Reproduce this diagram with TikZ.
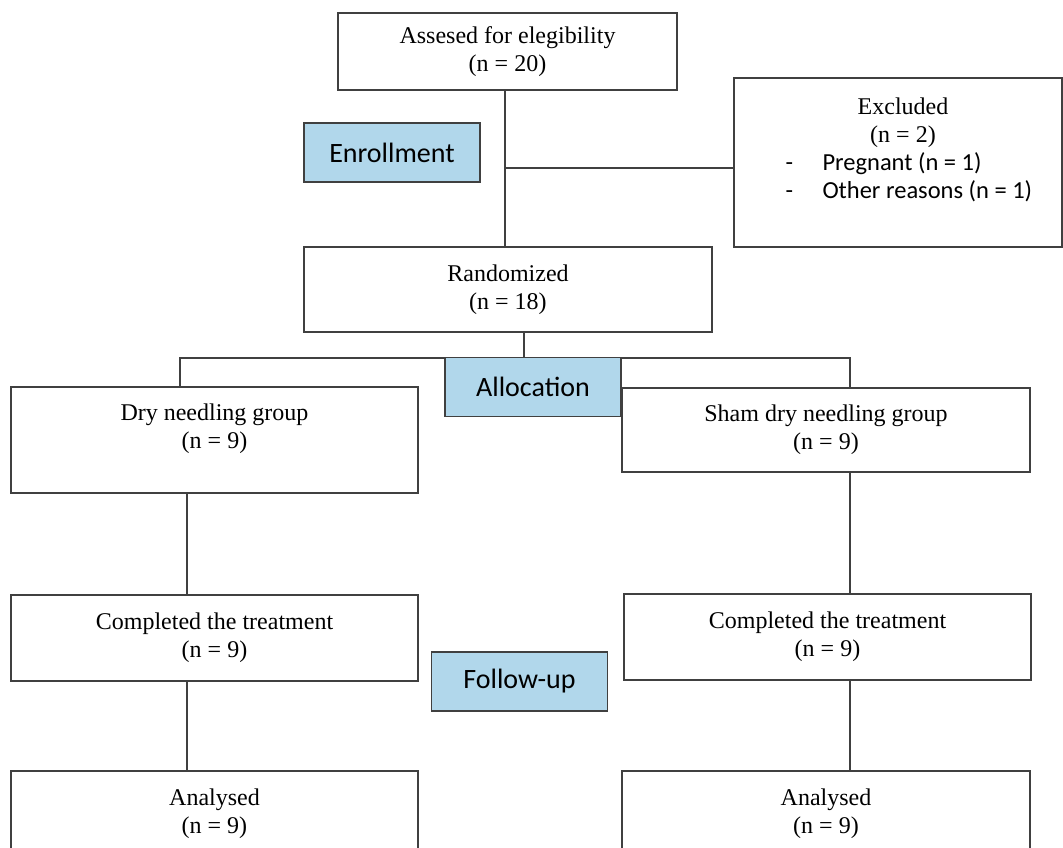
\documentclass[tikz,border=0pt]{standalone}
\usepackage{fontspec}
\setmainfont{Liberation Serif}
\newfontfamily\calib{Carlito}
\usepackage{tikz}
\definecolor{tagblue}{RGB}{177,215,235}
\definecolor{edge}{RGB}{64,64,64}
\newcommand{\excl}[1]{{\calib\fontsize{24.5}{29}\selectfont\makebox[265pt][r]{\makebox[245pt][l]{\makebox[37pt][l]{-}#1}}}}

\begin{document}
\begin{tikzpicture}[x=1pt,y=-1pt,
		box/.style={draw=edge,line width=1.1pt,align=center,inner sep=0pt,font=\fontsize{24}{28}\selectfont},
		tag/.style={draw=edge,line width=1.1pt,fill=tagblue,inner sep=0pt,minimum width=176pt,minimum height=59pt,font=\calib\fontsize{28}{32}\selectfont},
		link/.style={draw=edge,line width=1.1pt}]
					\useasboundingbox (0,0) rectangle (1063,848);
					\node[box,minimum width=339pt,minimum height=77pt] (assess) at (507.5,51.5) {Assesed for elegibility\\(n = 20)};
					\node[tag] (enroll) at (392,152.5) {Enrollment};
					\node[box,minimum width=328pt,minimum height=169pt] (excl) at (898,162.5) {\hspace*{10pt}Excluded\\\hspace*{10pt}(n = 2)\\\excl{Pregnant (n = 1)}\\\excl{Other reasons (n = 1)}\\\mbox{}};
					\node[box,minimum width=408pt,minimum height=85pt] (rand) at (508,289.5) {Randomized\\(n = 18)};
					\node[box,minimum width=407pt,minimum height=106pt] (dry) at (214.5,440) {Dry needling group\\(n = 9)\\\mbox{}};
					\node[box,minimum width=408pt,minimum height=84pt] (sham) at (826,430) {Sham dry needling group\\(n = 9)};
					\node[box,minimum width=407pt,minimum height=86pt] (comp1) at (214.5,638) {Completed the treatment\\(n = 9)};
					\node[box,minimum width=407pt,minimum height=86pt] (comp2) at (827.5,637) {Completed the treatment\\(n = 9)};
					\node[tag] (follow) at (519.5,681.5) {Follow-up};
					\node[box,minimum width=407pt,minimum height=86pt] (anal1) at (214.5,814) {Analysed\\(n = 9)};
					\node[box,minimum width=408pt,minimum height=86pt] (anal2) at (826,814) {Analysed\\(n = 9)};
					\coordinate (e) at (505,168);
					\coordinate (r) at (524,358);
					\coordinate (l) at (180,358);
					\coordinate (s) at (850,358);
					\coordinate (c1) at (187,0);
					\coordinate (c2) at (850,0);
					\path[link]
					(assess.south -| e) -- (rand.north -| e)
					(e) -- (e -| excl.west)
					(rand.south -| r) -- (r)
					(dry.north -| l) -- (l) -- (s) -- (s |- sham.north)
					(dry.south -| c1) -- (comp1.north -| c1)
					(comp1.south -| c1) -- (anal1.north -| c1)
					(sham.south -| c2) -- (comp2.north -| c2)
					(comp2.south -| c2) -- (anal2.north -| c2);
					\node[tag] (alloc) at (533,387) {Allocation};
				\end{tikzpicture}
\end{document}
